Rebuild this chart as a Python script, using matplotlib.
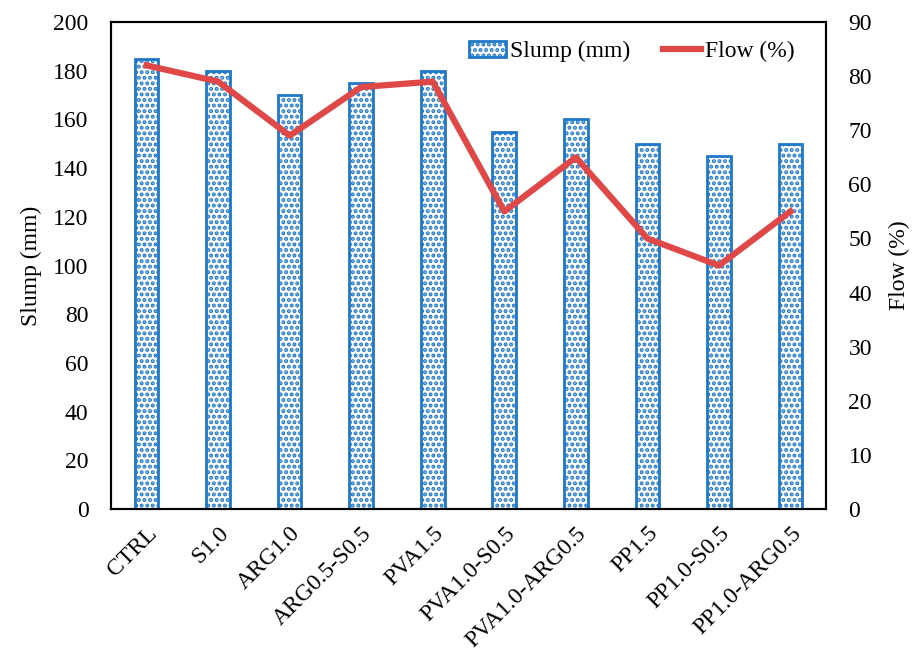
import matplotlib
matplotlib.use('Agg')
import matplotlib.pyplot as plt
import numpy as np

mixes = ['CTRL', 'S1.0', 'ARG1.0', 'ARG0.5-S0.5', 'PVA1.5', 'PVA1.0-S0.5',
         'PVA1.0-ARG0.5', 'PP1.5', 'PP1.0-S0.5', 'PP1.0-ARG0.5']
slump = [185, 180, 170, 175, 180, 155, 160, 150, 145, 150]
flow = [82, 79, 69, 78, 79, 55, 65, 50, 45, 55]

plt.rcParams['font.family'] = 'Liberation Serif'
plt.rcParams['font.size'] = 17
plt.rcParams['hatch.color'] = '#1f78c8'
plt.rcParams['hatch.linewidth'] = 2.0

fig, ax = plt.subplots(figsize=(9.16, 6.5), dpi=100)
fig.subplots_adjust(left=0.121, right=0.902, top=0.966, bottom=0.217)

x = np.arange(len(mixes))
bars = ax.bar(x, slump, width=0.33, color='white', edgecolor='#1f78c8',
              linewidth=2.0, hatch='...', label='Slump (mm)')
ax.set_xlim(-0.5, len(mixes) - 0.5)
ax.set_ylim(0, 200)
ax.set_yticks(range(0, 201, 20))
ax.set_ylabel('Slump (mm)', labelpad=8)
ax.set_xticks(x)
ax.set_xticklabels(mixes, rotation=45, ha='right', rotation_mode='anchor')
ax.tick_params(axis='x', length=0, pad=10)
ax.tick_params(axis='y', length=0, pad=16)

ax2 = ax.twinx()
ln, = ax2.plot(x, flow, color='#e04848', linewidth=4.5, label='Flow (%)')
ax2.set_ylim(0, 90)
ax2.set_yticks(range(0, 91, 10))
ax2.set_ylabel('Flow (%)', labelpad=12)
ax2.tick_params(length=0, pad=16)

for a in (ax, ax2):
    for s in a.spines.values():
        s.set_linewidth(1.5)

ax2.legend([bars, ln], ['Slump (mm)', 'Flow (%)'], ncol=2, frameon=False,
           loc='upper right', bbox_to_anchor=(0.985, 1.005), handlelength=1.6,
           handletextpad=0.15, columnspacing=1.4, fontsize=17)

fig.savefig('out.png', dpi=100)
